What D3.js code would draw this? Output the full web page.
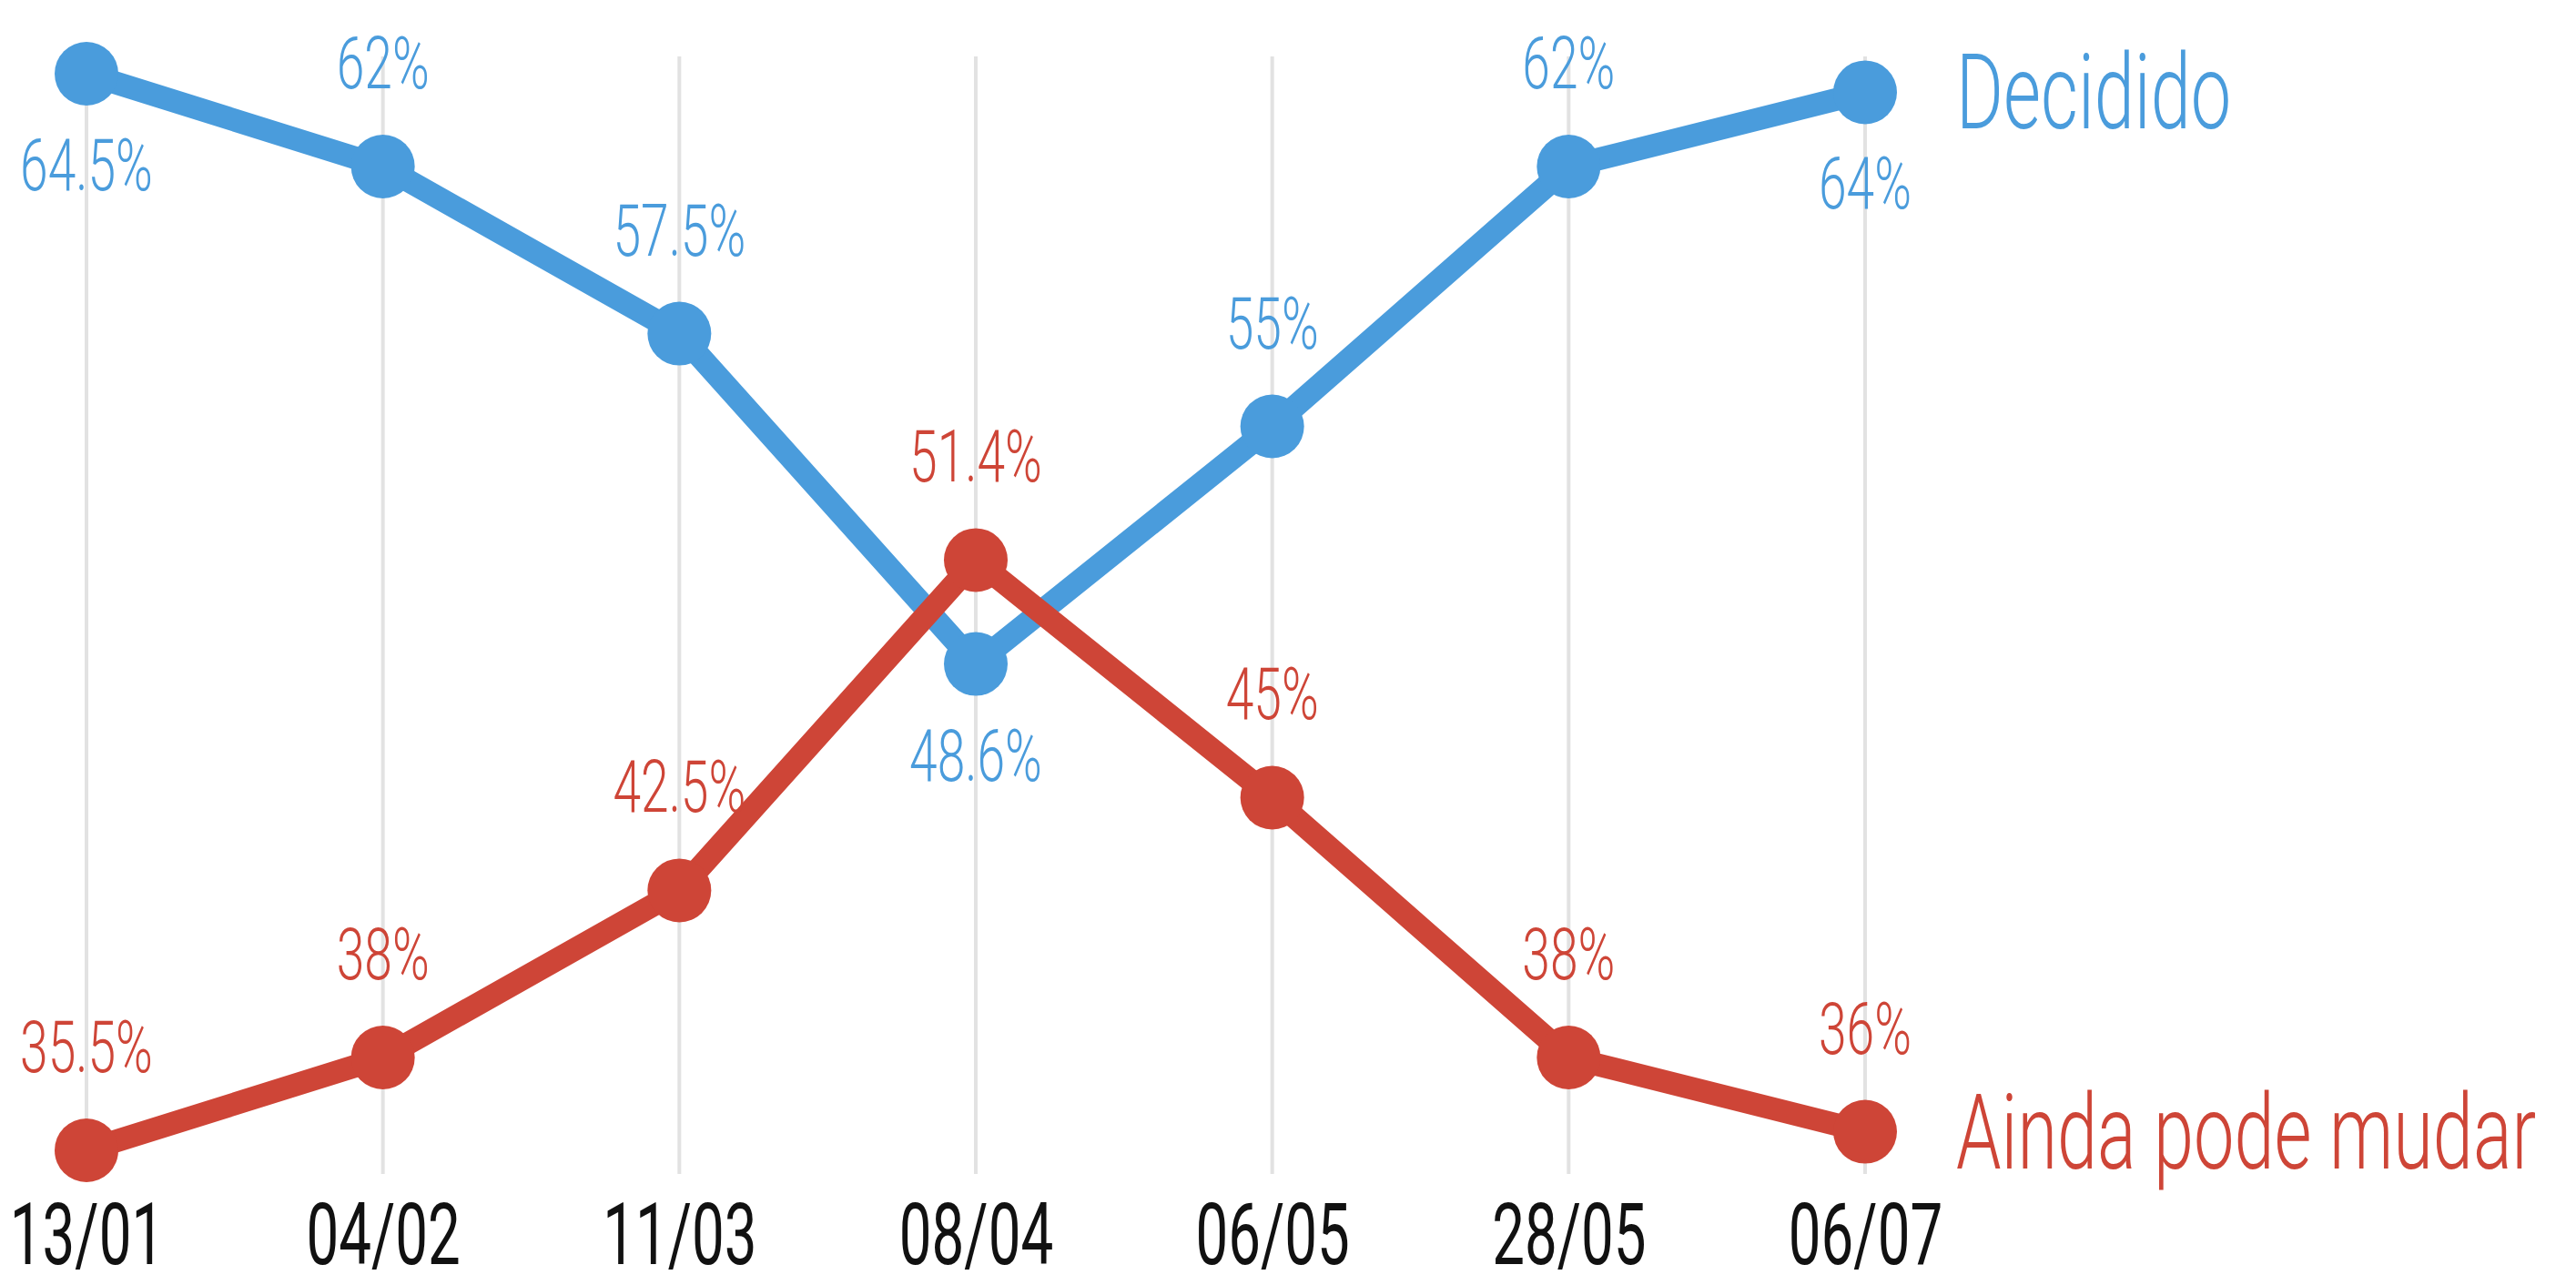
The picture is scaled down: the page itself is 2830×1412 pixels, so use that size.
<!DOCTYPE html>
<html>
<head>
<meta charset="utf-8">
<script src="https://cdn.jsdelivr.net/npm/d3@7"></script>
<style>
  html, body { margin: 0; padding: 0; background: #fff; }
  svg { display: block; }
</style>
</head>
<body>
<svg id="chart" width="2830" height="1412"></svg>
<script>
// Survey dates
const dates = ["13/01", "04/02", "11/03", "08/04", "06/05", "28/05", "06/07"];
// Share of respondents (%)
const decidido = [64.5, 62, 57.5, 48.6, 55, 62, 64];
const aindaPodeMudar = [35.5, 38, 42.5, 51.4, 45, 38, 36];
// Value labels: which side of the point each label sits on
const decididoLabelSide = ["below", "above", "above", "below", "above", "above", "below"];
const mudarLabelSide = ["above", "above", "above", "above", "above", "above", "above"];

const series = [
  { name: "Decidido", values: decidido, sides: decididoLabelSide, color: "#4A9CDC" },
  { name: "Ainda pode mudar", values: aindaPodeMudar, sides: mudarLabelSide, color: "#CE4537" }
];

const FONT = "Roboto, 'Liberation Sans', sans-serif";
const SQUEEZE = 0.69;

const svg = d3.select("#chart");

const x = d3.scalePoint().domain(dates).range([95, 2049]);
const y = d3.scaleLinear().domain([35.5, 64.5]).range([1264, 81]);

// Vertical gridlines at each survey date
svg.append("g")
  .selectAll("line")
  .data(dates)
  .join("line")
  .attr("x1", d => x(d)).attr("x2", d => x(d))
  .attr("y1", 62).attr("y2", 1290)
  .attr("stroke", "#e2e2e2")
  .attr("stroke-width", 4);

// Date axis
const axis = svg.append("g")
  .attr("transform", "translate(0,1322)")
  .call(d3.axisBottom(x).tickSize(0).tickPadding(0));
axis.select(".domain").remove();
axis.selectAll("text")
  .attr("font-family", FONT)
  .attr("font-size", 95)
  .attr("fill", "#111")
  .attr("transform", "scale(0.67,1)");

const line = d3.line()
  .x((d, i) => x(dates[i]))
  .y(d => y(d));

series.forEach(s => {
  const g = svg.append("g");
  g.append("path")
    .datum(s.values)
    .attr("d", line)
    .attr("fill", "none")
    .attr("stroke", s.color)
    .attr("stroke-width", 25)
    .attr("stroke-linejoin", "round");
  g.selectAll("circle")
    .data(s.values)
    .join("circle")
    .attr("cx", (d, i) => x(dates[i]))
    .attr("cy", d => y(d))
    .attr("r", 35)
    .attr("fill", s.color);
});

// Value labels
series.forEach(s => {
  const g = svg.append("g");
  s.values.forEach((v, i) => {
    const off = s.sides[i] === "above" ? -86 : 128;
    g.append("g")
      .attr("transform", `translate(${x(dates[i])},${y(v) + off})`)
      .append("text")
      .attr("transform", `scale(${SQUEEZE},1)`)
      .attr("text-anchor", "middle")
      .attr("font-family", FONT)
      .attr("font-weight", 300)
      .attr("font-size", 80)
      .attr("fill", s.color)
      .text(d3.format("")(v) + "%");
  });
  // Series name at the end of the line
  const last = s.values.length - 1;
  svg.append("g")
    .attr("transform", `translate(${x(dates[last]) + 100},${y(s.values[last]) + 40})`)
    .append("text")
    .attr("transform", `scale(${SQUEEZE},1)`)
    .attr("font-family", FONT)
    .attr("font-weight", 300)
    .attr("font-size", 115)
    .attr("fill", s.color)
    .text(s.name);
});
</script>
</body>
</html>
